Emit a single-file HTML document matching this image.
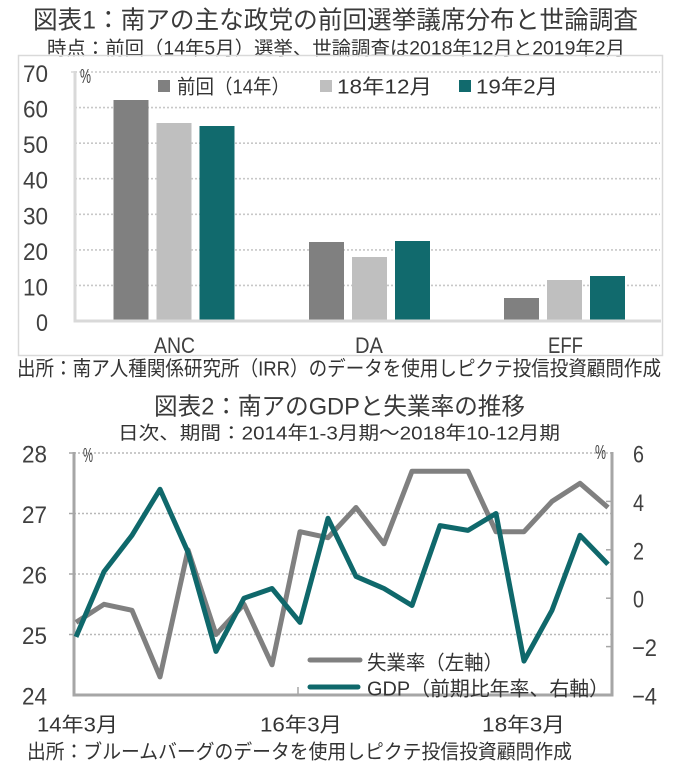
<!DOCTYPE html>
<html>
<head>
<meta charset="utf-8">
<style>
html,body{margin:0;padding:0;background:#fff;}
svg{display:block;}
text{font-family:"Liberation Sans","Noto Sans CJK JP",sans-serif;fill:#333;}
.t{fill:#3a3a3a;}
.n{font-family:"Liberation Sans",sans-serif;fill:#404040;}
</style>
</head>
<body>
<svg width="700" height="775" viewBox="0 0 700 775" xmlns="http://www.w3.org/2000/svg">
<rect width="700" height="775" fill="#fff"/>

<!-- ===== Chart 1 ===== -->
<text class="t" x="33" y="28.5" font-size="25" textLength="605" lengthAdjust="spacingAndGlyphs">図表1：南アの主な政党の前回選挙議席分布と世論調査</text>
<text x="47" y="54.7" font-size="19" textLength="578" lengthAdjust="spacingAndGlyphs">時点：前回（14年5月）選挙、世論調査は2018年12月と2019年2月</text>

<rect x="18.5" y="55.5" width="644" height="300" fill="none" stroke="#d9d9d9" stroke-width="1.5"/>

<!-- gridlines -->
<g stroke="#c8c8c8" stroke-width="1.6" stroke-dasharray="2 2">
<line x1="75" y1="72" x2="660" y2="72"/>
<line x1="75" y1="107.6" x2="660" y2="107.6"/>
<line x1="75" y1="143.2" x2="660" y2="143.2"/>
<line x1="75" y1="178.7" x2="660" y2="178.7"/>
<line x1="75" y1="214.3" x2="660" y2="214.3"/>
<line x1="75" y1="249.9" x2="660" y2="249.9"/>
<line x1="75" y1="285.4" x2="660" y2="285.4"/>
</g>

<!-- bars -->
<g>
<rect x="113.5" y="100" width="35" height="220" fill="#808080"/>
<rect x="156.5" y="123" width="35" height="197" fill="#bfbfbf"/>
<rect x="199.5" y="126" width="35" height="194" fill="#116a6d"/>
<rect x="309" y="242" width="35" height="78" fill="#808080"/>
<rect x="352" y="257" width="35" height="63" fill="#bfbfbf"/>
<rect x="395" y="241" width="35" height="79" fill="#116a6d"/>
<rect x="504" y="298" width="35" height="22" fill="#808080"/>
<rect x="547" y="280" width="35" height="40" fill="#bfbfbf"/>
<rect x="590" y="276" width="35" height="44" fill="#116a6d"/>
</g>

<!-- axes -->
<line x1="75" y1="71" x2="75" y2="322.5" stroke="#d9d9d9" stroke-width="3"/>
<line x1="73.5" y1="321" x2="661" y2="321" stroke="#d9d9d9" stroke-width="3"/>
<line x1="71" y1="72" x2="75" y2="72" stroke="#d9d9d9" stroke-width="1.5"/>

<!-- y labels -->
<g>
<text class="n" x="23" y="82" font-size="24" textLength="25" lengthAdjust="spacingAndGlyphs">70</text>
<text class="n" x="23" y="117.6" font-size="24" textLength="25" lengthAdjust="spacingAndGlyphs">60</text>
<text class="n" x="23" y="153.2" font-size="24" textLength="25" lengthAdjust="spacingAndGlyphs">50</text>
<text class="n" x="23" y="188.7" font-size="24" textLength="25" lengthAdjust="spacingAndGlyphs">40</text>
<text class="n" x="23" y="224.3" font-size="24" textLength="25" lengthAdjust="spacingAndGlyphs">30</text>
<text class="n" x="23" y="259.9" font-size="24" textLength="25" lengthAdjust="spacingAndGlyphs">20</text>
<text class="n" x="23" y="295.4" font-size="24" textLength="25" lengthAdjust="spacingAndGlyphs">10</text>
<text class="n" x="36" y="331" font-size="24" textLength="12" lengthAdjust="spacingAndGlyphs">0</text>
</g>
<text class="n" x="80" y="83" font-size="20" textLength="11" lengthAdjust="spacingAndGlyphs">%</text>

<!-- legend 1 -->
<rect x="158" y="80" width="12" height="12" fill="#808080"/>
<text x="177" y="93.6" font-size="20" textLength="113" lengthAdjust="spacingAndGlyphs">前回（14年）</text>
<rect x="320" y="80" width="12" height="12" fill="#bfbfbf"/>
<text x="337" y="93.6" font-size="20" textLength="95" lengthAdjust="spacingAndGlyphs">18年12月</text>
<rect x="459" y="80" width="12" height="12" fill="#116a6d"/>
<text x="476" y="93.6" font-size="20" textLength="82" lengthAdjust="spacingAndGlyphs">19年2月</text>

<!-- category labels -->
<text class="n" x="154" y="353" font-size="22" textLength="41" lengthAdjust="spacingAndGlyphs">ANC</text>
<text class="n" x="355" y="353" font-size="22" textLength="28" lengthAdjust="spacingAndGlyphs">DA</text>
<text class="n" x="548" y="353" font-size="22" textLength="35" lengthAdjust="spacingAndGlyphs">EFF</text>

<text x="17" y="375.3" font-size="20.5" textLength="644" lengthAdjust="spacingAndGlyphs">出所：南ア人種関係研究所（IRR）のデータを使用しピクテ投信投資顧問作成</text>

<!-- ===== Chart 2 ===== -->
<text class="t" x="154" y="414.6" font-size="24" textLength="371" lengthAdjust="spacingAndGlyphs">図表2：南アのGDPと失業率の推移</text>
<text x="118" y="439.7" font-size="18.5" textLength="442" lengthAdjust="spacingAndGlyphs">日次、期間：2014年1-3月期～2018年10-12月期</text>

<g stroke="#b8b8b8" stroke-width="1.6" stroke-dasharray="2 2">
<line x1="74" y1="453" x2="612" y2="453"/>
<line x1="74" y1="513.5" x2="612" y2="513.5"/>
<line x1="74" y1="574" x2="612" y2="574"/>
<line x1="74" y1="634.5" x2="612" y2="634.5"/>
</g>

<!-- axes -->
<g stroke="#a6a6a6" stroke-width="3">
<line x1="74" y1="452" x2="74" y2="696.5"/>
<line x1="72.5" y1="695" x2="613.5" y2="695"/>
<line x1="612" y1="452" x2="612" y2="696.5"/>
</g>
<g stroke="#a6a6a6" stroke-width="1.5">
<line x1="69" y1="453" x2="74" y2="453"/>
<line x1="69" y1="513.5" x2="74" y2="513.5"/>
<line x1="69" y1="574" x2="74" y2="574"/>
<line x1="69" y1="634.5" x2="74" y2="634.5"/>
<line x1="606" y1="501.4" x2="612" y2="501.4"/>
<line x1="606" y1="549.8" x2="612" y2="549.8"/>
<line x1="606" y1="598.2" x2="612" y2="598.2"/>
<line x1="606" y1="646.6" x2="612" y2="646.6"/>
<line x1="298" y1="687" x2="298" y2="695"/>
</g>

<!-- series -->
<polyline fill="none" stroke="#808080" stroke-width="5" stroke-linejoin="round" stroke-linecap="butt"
points="76,622.4 104,604.3 132,610.3 160,676.9 188,549.8 216,634.5 244,604.3 272,664.8 300,531.7 328,537.7 356,507.5 384,543.8 412,471.2 440,471.2 468,471.2 496,531.7 524,531.7 552,501.4 580,483.3 608,507.5"/>
<polyline fill="none" stroke="#0f686b" stroke-width="5" stroke-linejoin="round" stroke-linecap="butt"
points="76,636.9 104,571.6 132,535.3 160,489.3 188,552.2 216,651.4 244,598.2 272,588.5 300,622.4 328,518.3 356,576.4 384,588.5 412,605.5 440,525.6 468,530.4 496,513.5 524,661.1 552,610.3 580,535.3 608,564.3"/>

<!-- y labels left -->
<g>
<text class="n" x="22" y="462.5" font-size="24" textLength="25" lengthAdjust="spacingAndGlyphs">28</text>
<text class="n" x="22" y="523" font-size="24" textLength="25" lengthAdjust="spacingAndGlyphs">27</text>
<text class="n" x="22" y="583.5" font-size="24" textLength="25" lengthAdjust="spacingAndGlyphs">26</text>
<text class="n" x="22" y="644" font-size="24" textLength="25" lengthAdjust="spacingAndGlyphs">25</text>
<text class="n" x="22" y="704.5" font-size="24" textLength="25" lengthAdjust="spacingAndGlyphs">24</text>
</g>
<!-- y labels right -->
<g>
<text class="n" x="633" y="462.5" font-size="24" textLength="11" lengthAdjust="spacingAndGlyphs">6</text>
<text class="n" x="633" y="510.9" font-size="24" textLength="11" lengthAdjust="spacingAndGlyphs">4</text>
<text class="n" x="633" y="559.3" font-size="24" textLength="11" lengthAdjust="spacingAndGlyphs">2</text>
<text class="n" x="633" y="607.7" font-size="24" textLength="11" lengthAdjust="spacingAndGlyphs">0</text>
<text class="n" x="632" y="656.1" font-size="24" textLength="25" lengthAdjust="spacingAndGlyphs">−2</text>
<text class="n" x="632" y="704.5" font-size="24" textLength="25" lengthAdjust="spacingAndGlyphs">−4</text>
</g>
<text class="n" x="83" y="462" font-size="20" textLength="10" lengthAdjust="spacingAndGlyphs">%</text>
<text class="n" x="595" y="459" font-size="20" textLength="11" lengthAdjust="spacingAndGlyphs">%</text>

<!-- legend 2 -->
<line x1="310" y1="660" x2="360" y2="660" stroke="#808080" stroke-width="5" stroke-linecap="round"/>
<text x="367" y="669.6" font-size="20" textLength="136" lengthAdjust="spacingAndGlyphs">失業率（左軸）</text>
<line x1="310" y1="687" x2="358" y2="687" stroke="#0f686b" stroke-width="5" stroke-linecap="round"/>
<text x="367" y="695.6" font-size="20" textLength="242" lengthAdjust="spacingAndGlyphs">GDP（前期比年率、右軸）</text>

<!-- x labels -->
<text x="37" y="731.6" font-size="20" textLength="81" lengthAdjust="spacingAndGlyphs">14年3月</text>
<text x="260" y="731.6" font-size="20" textLength="82" lengthAdjust="spacingAndGlyphs">16年3月</text>
<text x="482" y="731.6" font-size="20" textLength="83" lengthAdjust="spacingAndGlyphs">18年3月</text>

<text x="27" y="758.6" font-size="20" textLength="545" lengthAdjust="spacingAndGlyphs">出所：ブルームバーグのデータを使用しピクテ投信投資顧問作成</text>
</svg>
</body>
</html>
